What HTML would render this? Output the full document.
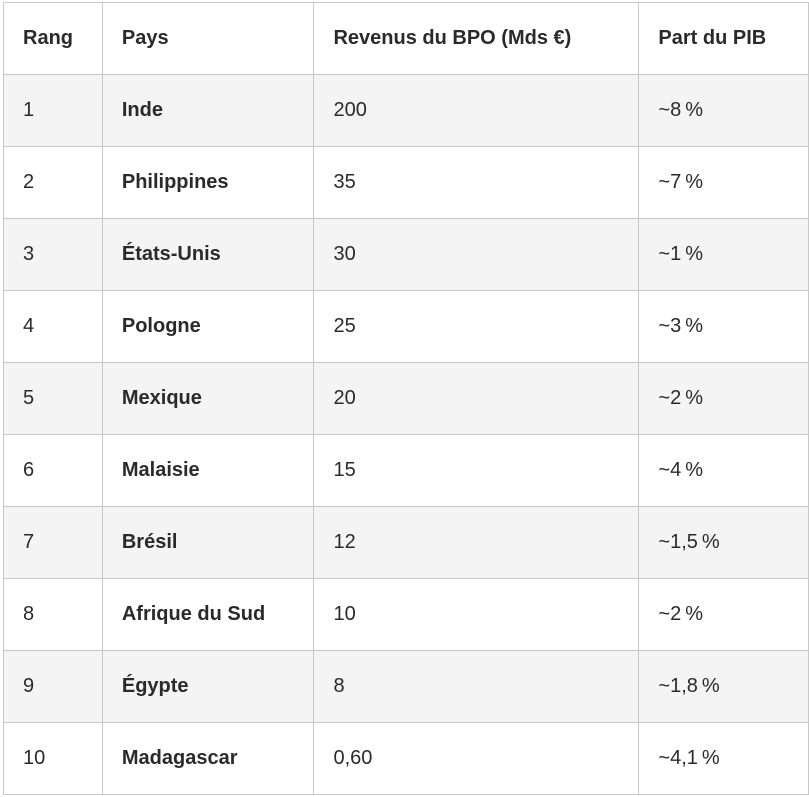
<!DOCTYPE html>
<html><head><meta charset="utf-8"><style>
html,body{margin:0;padding:0;background:#fff;width:809px;height:797px;overflow:hidden}
table{position:absolute;left:3px;top:2px;border-collapse:collapse;font-family:"Liberation Sans",sans-serif;font-size:20px;color:#2a2a2a}
td,th{border:1px solid #c8c8c8;height:72px;padding:0 0 0 19px;text-align:left;box-sizing:border-box}
th{font-weight:bold}
td.b{font-weight:bold}
tr.g td{background:#f4f4f4}
</style></head><body>
<table>
<colgroup><col style="width:99px"><col style="width:212px"><col style="width:326px"><col style="width:170px"></colgroup>
<tr><th>Rang</th><th>Pays</th><th>Revenus du BPO (Mds €)</th><th>Part du PIB</th></tr>
<tr class="g"><td>1</td><td class="b">Inde</td><td>200</td><td>~8&#8239;%</td></tr>
<tr><td>2</td><td class="b">Philippines</td><td>35</td><td>~7&#8239;%</td></tr>
<tr class="g"><td>3</td><td class="b">États-Unis</td><td>30</td><td>~1&#8239;%</td></tr>
<tr><td>4</td><td class="b">Pologne</td><td>25</td><td>~3&#8239;%</td></tr>
<tr class="g"><td>5</td><td class="b">Mexique</td><td>20</td><td>~2&#8239;%</td></tr>
<tr><td>6</td><td class="b">Malaisie</td><td>15</td><td>~4&#8239;%</td></tr>
<tr class="g"><td>7</td><td class="b">Brésil</td><td>12</td><td>~1,5&#8239;%</td></tr>
<tr><td>8</td><td class="b">Afrique du Sud</td><td>10</td><td>~2&#8239;%</td></tr>
<tr class="g"><td>9</td><td class="b">Égypte</td><td>8</td><td>~1,8&#8239;%</td></tr>
<tr><td>10</td><td class="b">Madagascar</td><td>0,60</td><td>~4,1&#8239;%</td></tr>
</table>
</body></html>
